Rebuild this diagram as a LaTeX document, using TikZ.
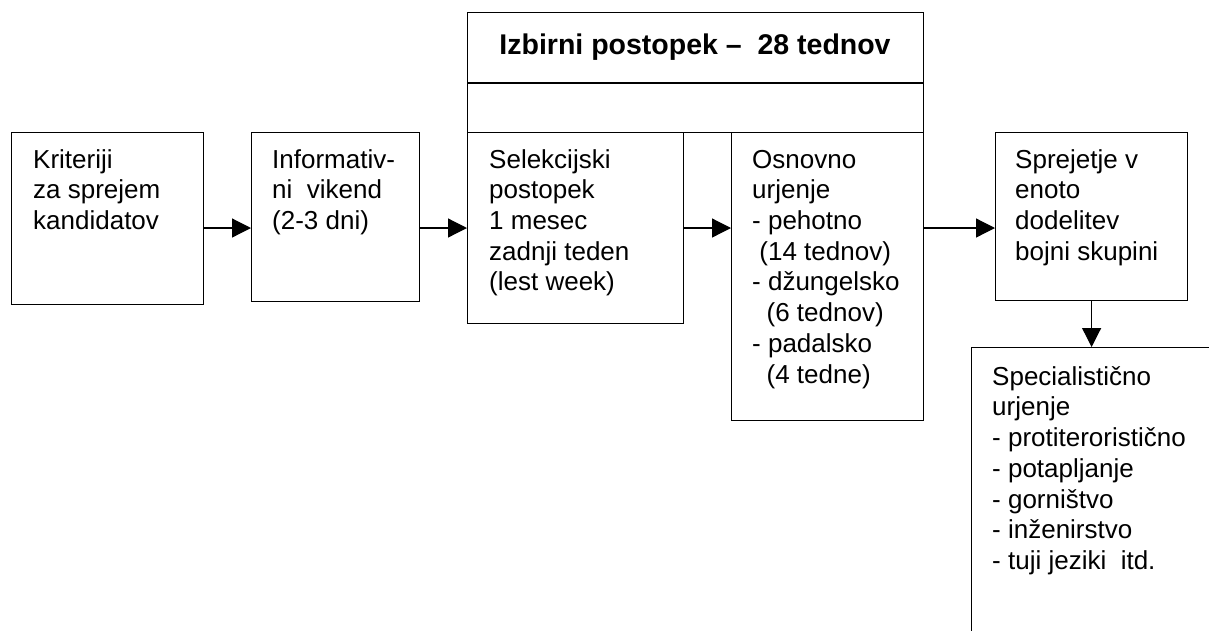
\documentclass[tikz,border=0pt]{standalone}
\usepackage{fontspec}
\setmainfont{Liberation Sans}
\usetikzlibrary{arrows.meta,calc}
\begin{document}
\begin{tikzpicture}[x=1pt,y=-1pt,
  box/.style={draw,line width=1.2pt,rectangle,inner sep=0pt,anchor=north west},
  txt/.style={anchor=north west,inner sep=0pt,align=left,font=\fontsize{26pt}{30.7pt}\selectfont},
  ttl/.style={anchor=base,inner sep=0pt,font=\fontsize{28.5pt}{30pt}\selectfont\bfseries},
  arr/.style={line width=1.2pt,-{Triangle[length=19pt,width=19pt]}}]
\clip (0,0) rectangle (1209,630);
\useasboundingbox (0,0) rectangle (1209,630);
% boxes
\node[box,minimum width=192pt,minimum height=172pt] (b1) at (11,132) {};
\node[box,minimum width=168pt,minimum height=169pt] (b2) at (251,132) {};
\node[box,minimum width=456pt,minimum height=120pt] (tt) at (467,12) {};
\node[box,minimum width=216pt,minimum height=191pt] (b3) at (467,132) {};
\node[box,minimum width=192pt,minimum height=288pt] (b4) at (731,132) {};
\node[box,minimum width=192pt,minimum height=168pt] (b5) at (995,132) {};
\node[box,minimum width=260pt,minimum height=300pt] (b6) at (971,347) {};
\coordinate (mid) at (0,83);
\draw[line width=1.2pt] (tt.west |- mid) -- (tt.east |- mid);
% texts (first baseline = top + 21.5)
\node[ttl] (t0) at (695,54) {Izbirni postopek –\ \ 28 tednov};
\node[txt] (t1) at (33,146.5) {\strut Kriteriji\\za sprejem\\kandidatov};
\node[txt] (t2) at (272,146.5) {\strut Informativ-\\ni\ \ vikend\\(2-3 dni)};
\node[txt] (t3) at (489,146.5) {\strut Selekcijski\\postopek\\1 mesec\\zadnji teden\\(lest week)};
\node[txt] (t4) at (752,146.5) {\strut Osnovno\\urjenje\\- pehotno\\\ (14 tednov)\\- džungelsko\\\ \ (6 tednov)\\- padalsko\\\ \ (4 tedne)};
\node[txt] (t5) at (1015,146.5) {\strut Sprejetje v\\enoto\\dodelitev\\bojni skupini};
\node[txt] (t6) at (992,363.5) {\strut Specialistično\\urjenje\\- protiteroristično\\- potapljanje\\- gorništvo\\- inženirstvo\\- tuji jeziki\ \ itd.};
% arrows
\coordinate (ay) at (0,228);
\draw[arr] (b1.east |- ay) -- (b2.west |- ay);
\draw[arr] (b2.east |- ay) -- (b3.west |- ay);
\draw[arr] (b3.east |- ay) -- (b4.west |- ay);
\draw[arr] (b4.east |- ay) -- (b5.west |- ay);
\draw[arr] (b5.south) -- (b6.north -| b5.south);
\end{tikzpicture}
\end{document}
